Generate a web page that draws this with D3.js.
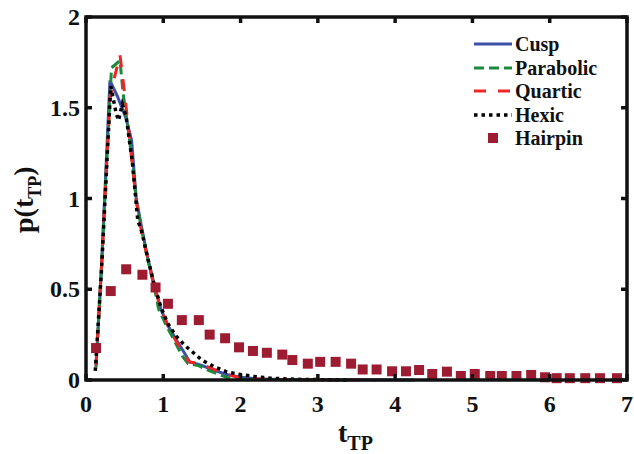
<!DOCTYPE html>
<html>
<head>
<meta charset="utf-8">
<title>p(tTP)</title>
<style type="text/css">
	body { margin: 0; background: #fff; }
	text { font-family: "Liberation Serif", "Times New Roman", serif; font-weight: bold; fill: #111; }
</style>
<script src="https://cdn.jsdelivr.net/npm/d3@7/dist/d3.min.js"></script>
</head>
<body>
<div id="chart"></div>
<script type="text/javascript">
// values
var xTicks = [0, 1, 2, 3, 4, 5, 6, 7];
var yTicks = [0, 0.5, 1, 1.5, 2];

var tCusp = [0.13, 0.2, 0.31, 0.41, 0.52, 0.59, 0.65, 0.72, 0.8, 0.88, 0.97, 1.06, 1.17, 1.28, 1.34, 1.47, 1.65, 1.82, 2.0, 2.2, 2.5, 3.0, 3.5, 4.25];
var pCusp = [0.08, 0.62, 1.65, 1.56, 1.44, 1.32, 1.0, 0.84, 0.67, 0.53, 0.39, 0.3, 0.22, 0.145, 0.1, 0.085, 0.055, 0.03, 0.015, 0.007, 0.003, 0.001, 0.001, 0];

var tParabolic = [0.13, 0.2, 0.33, 0.44, 0.48, 0.54, 0.6, 0.65, 0.72, 0.8, 0.88, 0.94, 1.04, 1.15, 1.25, 1.32, 1.45, 1.6, 1.73, 1.85, 2.0, 2.5, 3.0, 3.4];
var pParabolic = [0.07, 0.62, 1.72, 1.76, 1.58, 1.4, 1.2, 0.99, 0.83, 0.66, 0.52, 0.39, 0.3, 0.21, 0.13, 0.09, 0.08, 0.05, 0.03, 0.01, 0.004, 0.002, 0.001, 0];

var tQuartic = [0.13, 0.2, 0.31, 0.37, 0.44, 0.5, 0.56, 0.65, 0.72, 0.8, 0.88, 0.97, 1.06, 1.17, 1.27, 1.33, 1.47, 1.65, 1.82, 2.0, 2.2, 2.5, 3.0, 3.75];
var pQuartic = [0.08, 0.62, 1.55, 1.67, 1.79, 1.58, 1.34, 0.99, 0.81, 0.67, 0.52, 0.39, 0.3, 0.21, 0.14, 0.1, 0.09, 0.06, 0.03, 0.013, 0.006, 0.003, 0.001, 0];

var tHexic = [0.12, 0.2, 0.32, 0.39, 0.42, 0.47, 0.52, 0.6, 0.67, 0.72, 0.8, 0.88, 0.97, 1.06, 1.17, 1.28, 1.39, 1.5, 1.65, 1.82, 2.0, 2.16, 2.38, 2.7, 3.0, 3.4];
var pHexic = [0.05, 0.6, 1.62, 1.47, 1.43, 1.52, 1.45, 1.2, 0.88, 0.82, 0.67, 0.53, 0.4, 0.31, 0.24, 0.19, 0.15, 0.11, 0.075, 0.045, 0.03, 0.02, 0.01, 0.004, 0.002, 0];

var tHairpin = [0.13, 0.32, 0.52, 0.73, 0.9, 1.06, 1.24, 1.46, 1.6, 1.8, 1.98, 2.16, 2.34, 2.54, 2.67, 2.87, 3.03, 3.23, 3.43, 3.58, 3.76, 3.96, 4.14, 4.31, 4.48, 4.67, 4.85, 5.03, 5.23, 5.38, 5.57, 5.76, 5.94, 6.09, 6.26, 6.46, 6.65, 6.87];
var pHairpin = [0.176, 0.49, 0.61, 0.58, 0.51, 0.42, 0.33, 0.33, 0.25, 0.23, 0.18, 0.16, 0.15, 0.14, 0.11, 0.09, 0.1, 0.1, 0.09, 0.058, 0.058, 0.048, 0.048, 0.055, 0.033, 0.046, 0.022, 0.033, 0.022, 0.022, 0.022, 0.028, 0.015, 0.01, 0.01, 0.01, 0.01, 0.01];

var seriesNames = ['Cusp', 'Parabolic', 'Quartic', 'Hexic', 'Hairpin'];

(function(){
	var width = 634, height = 454;
	var left = 86, right = 627, top = 17, bottom = 380;

	var x = d3.scaleLinear().domain([0, 7]).range([left, right]);
	var y = d3.scaleLinear().domain([0, 2]).range([bottom, top]);

	var svg = d3.select('#chart').append('svg')
			.attr('width', width)
			.attr('height', height);

	var lines = [
		{name: 'Cusp', t: tCusp, p: pCusp, color: '#3d4fa6', dash: null, w: 3},
		{name: 'Parabolic', t: tParabolic, p: pParabolic, color: '#1b8a3c', dash: '10,5', w: 3},
		{name: 'Quartic', t: tQuartic, p: pQuartic, color: '#ee2626', dash: '12,12', w: 3},
		{name: 'Hexic', t: tHexic, p: pHexic, color: '#000', dash: '3.5,4', w: 3.5}
	];

	var line = d3.line()
			.x(function(d){ return x(d[0]); })
			.y(function(d){ return y(d[1]); });

	lines.forEach(function(s){
		svg.append('path')
				.datum(d3.zip(s.t, s.p))
				.attr('d', line)
				.attr('fill', 'none')
				.attr('stroke', s.color)
				.attr('stroke-width', s.w)
				.attr('stroke-dasharray', s.dash);
	});

	var ms = 10;
	svg.selectAll('.hp')
			.data(d3.zip(tHairpin, pHairpin))
		.enter().append('rect')
			.attr('class', 'hp')
			.attr('x', function(d){ return x(d[0]) - ms/2; })
			.attr('y', function(d){ return y(d[1]) - ms/2; })
			.attr('width', ms)
			.attr('height', ms)
			.attr('fill', '#9d1c31');

	// axes box with inward ticks on all sides
	var tl = 6;
	var ax = svg.append('g').attr('stroke', '#111').attr('stroke-width', 3.5).attr('fill', 'none');
	ax.append('rect')
			.attr('x', left).attr('y', top)
			.attr('width', right - left).attr('height', bottom - top);
	xTicks.forEach(function(v){
		ax.append('line').attr('x1', x(v)).attr('x2', x(v)).attr('y1', bottom).attr('y2', bottom - tl);
		ax.append('line').attr('x1', x(v)).attr('x2', x(v)).attr('y1', top).attr('y2', top + tl);
	});
	yTicks.forEach(function(v){
		ax.append('line').attr('x1', left).attr('x2', left + tl).attr('y1', y(v)).attr('y2', y(v));
		ax.append('line').attr('x1', right).attr('x2', right - tl).attr('y1', y(v)).attr('y2', y(v));
	});

	svg.selectAll('.xt')
			.data(xTicks)
		.enter().append('text')
			.attr('x', function(d){ return x(d); })
			.attr('y', bottom + 32)
			.attr('text-anchor', 'middle')
			.style('font-size', '24px')
			.text(function(d){ return d; });

	svg.selectAll('.yt')
			.data(yTicks)
		.enter().append('text')
			.attr('x', left - 6)
			.attr('y', function(d){ return y(d) + 8; })
			.attr('text-anchor', 'end')
			.style('font-size', '24px')
			.text(function(d){ return d; });

	// axis labels
	var xl = svg.append('text')
			.attr('x', 338).attr('y', 442)
			.style('font-size', '28px');
	xl.append('tspan').text('t');
	xl.append('tspan').attr('dy', 8).style('font-size', '20px').text('TP');

	var yl = svg.append('text')
			.attr('transform', 'translate(33,233) rotate(-90)')
			.style('font-size', '28px');
	yl.append('tspan').text('p(t');
	yl.append('tspan').attr('dy', 8).style('font-size', '18px').text('TP');
	yl.append('tspan').attr('dy', -8).text(')');

	// legend
	var lg = svg.append('g');
	var rowY = [44, 68, 91, 115, 138];
	lines.forEach(function(s, i){
		lg.append('line')
				.attr('x1', 474).attr('x2', 512)
				.attr('y1', rowY[i]).attr('y2', rowY[i])
				.attr('stroke', s.color)
				.attr('stroke-width', s.w)
				.attr('stroke-dasharray', s.dash);
	});
	lg.append('rect')
			.attr('x', 493 - ms/2).attr('y', rowY[4] - ms/2)
			.attr('width', ms).attr('height', ms)
			.attr('fill', '#9d1c31');
	seriesNames.forEach(function(n, i){
		lg.append('text')
				.attr('x', 515).attr('y', rowY[i] + 7)
				.style('font-size', '20px')
				.text(n);
	});
})();
</script>
</body>
</html>
